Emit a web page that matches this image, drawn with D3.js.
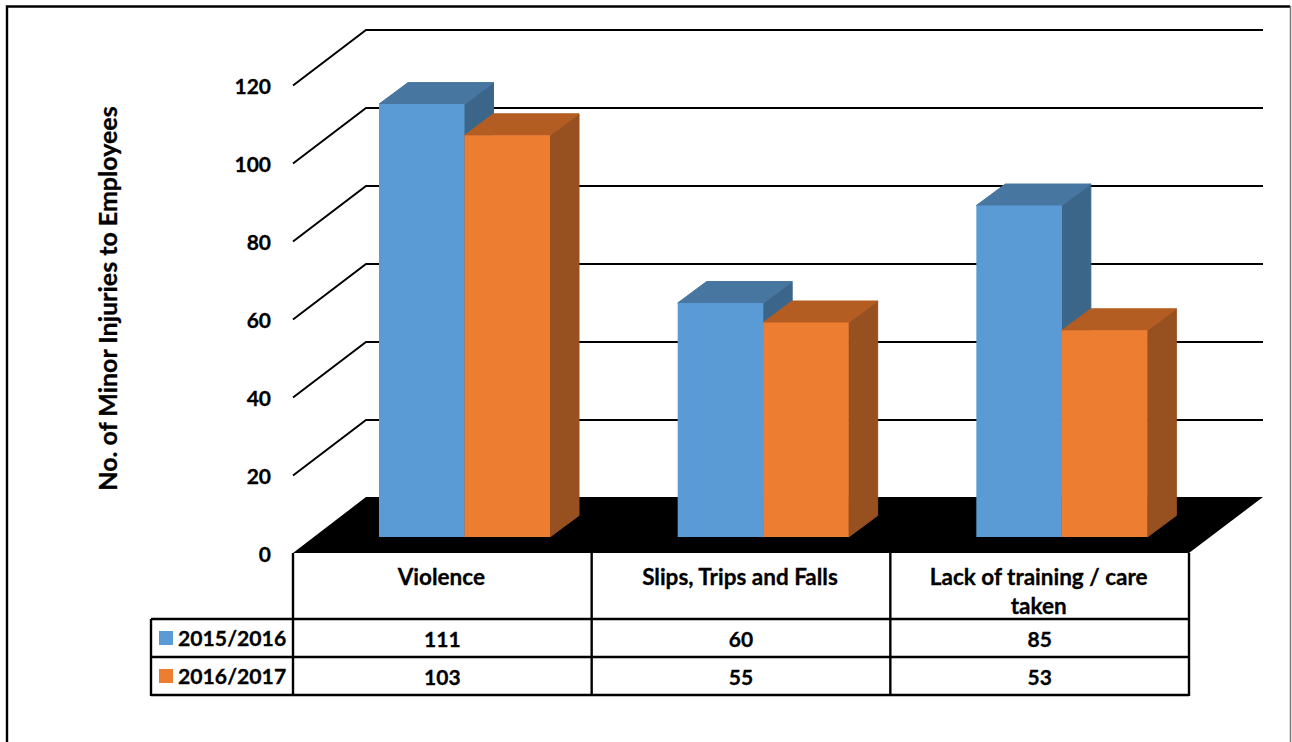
<!DOCTYPE html>
<html>
<head>
<meta charset="utf-8">
<script src="https://cdnjs.cloudflare.com/ajax/libs/d3/7.8.5/d3.min.js"></script>
<style>
  html, body { margin: 0; padding: 0; background: #fff; }
  svg { display: block; }
  text { font-family: Lato, "Open Sans", sans-serif; font-weight: 700; fill: #000; stroke: #000; stroke-width: 0.3px; }
</style>
</head>
<body>
<div id="chart"></div>
<script>
// Minor injuries to employees by cause, two reporting years
const categories = ["Violence", "Slips, Trips and Falls", "Lack of training / care taken"];
const categoryLines = [["Violence"], ["Slips, Trips and Falls"], ["Lack of training / care", "taken"]];
const seriesNames = ["2015/2016", "2016/2017"];
const values2015 = [111, 60, 85];
const values2016 = [103, 55, 53];
const yTicks = [0, 20, 40, 60, 80, 100, 120];
const yTitle = "No. of Minor Injuries to Employees";

const seriesValues = [values2015, values2016];
const palette = [
  { front: "#5b9bd5", top: "#4776a1", side: "#3c6689" },
  { front: "#ed7d31", top: "#b45d22", side: "#97501f" }
];

const W = 1292, H = 742;
const plotLeft = 293, plotRight = 1189;
const floorY = 553;
const wall = { dx: 73, dy: -55 };      // floor depth: front edge to back wall
const seat = { dx: 86, dy: -16 };      // where a bar group stands on the floor
const depth = { dx: 29, dy: -21.5 };   // extrusion of each bar
const groupWidth = 171;
const rowY = [619, 657, 695];
const tableLeft = 151;

const y = d3.scaleLinear().domain([0, 120]).range([floorY, floorY - 468]);
const x0 = d3.scaleBand().domain(categories).range([plotLeft, plotRight]);
const x1 = d3.scaleBand().domain(seriesNames).range([0, groupWidth]);

const svg = d3.select("#chart").append("svg").attr("width", W).attr("height", H);

// Page frame: heavy top and left, thin grey right, open at the bottom
svg.append("path").attr("d", `M7,${H} V6.5 H1290`).attr("fill", "none")
  .attr("stroke", "#000").attr("stroke-width", 2.4);
svg.append("line").attr("x1", 1290.5).attr("x2", 1290.5).attr("y1", 6).attr("y2", H)
  .attr("stroke", "#777").attr("stroke-width", 1.5);

// Gridlines: slanted side wall plus horizontal back wall
const grid = svg.append("g").attr("fill", "none").attr("stroke", "#000").attr("stroke-width", 2);
grid.selectAll("path").data(yTicks.filter(t => t > 0)).join("path")
  .attr("d", t => `M${plotLeft},${y(t) + 0.5} L${plotLeft + wall.dx},${y(t) + wall.dy} H${plotRight + wall.dx + 1}`);

// Black floor
svg.append("polygon").attr("fill", "#000")
  .attr("points", [
    [plotLeft, floorY],
    [plotLeft + wall.dx, floorY + wall.dy - 1],
    [plotRight + wall.dx + 1, floorY + wall.dy - 1],
    [plotRight, floorY]
  ].join(" "));

// Bars: front, top and side faces
categories.forEach((cat, c) => {
  seriesNames.forEach((name, s) => {
    const v = seriesValues[s][c];
    const col = palette[s];
    const xl = x0(cat) + seat.dx + x1(name);
    const xr = xl + x1.bandwidth();
    const yb = y(0) + seat.dy;
    const yt = y(v) + seat.dy;
    const g = svg.append("g").attr("stroke-width", 1);
    g.append("polygon").attr("fill", col.side).attr("stroke", col.side)
      .attr("points", [[xr, yt], [xr + depth.dx, yt + depth.dy], [xr + depth.dx, yb + depth.dy], [xr, yb]].join(" "));
    g.append("polygon").attr("fill", col.top).attr("stroke", col.top)
      .attr("points", [[xl, yt], [xl + depth.dx, yt + depth.dy], [xr + depth.dx, yt + depth.dy], [xr, yt]].join(" "));
    g.append("rect").attr("x", xl).attr("y", yt)
      .attr("width", xr - xl).attr("height", yb - yt)
      .attr("fill", col.front).attr("stroke", "none");
  });
});

// Value axis labels
const axis = d3.axisLeft(y).tickValues(yTicks).tickSize(0).tickPadding(22);
const axisG = svg.append("g").attr("transform", `translate(${plotLeft},1.5)`).call(axis);
axisG.select(".domain").remove();
axisG.selectAll("text").attr("font-size", 21).style("font-family", "Lato, sans-serif").style("font-weight", 700);

// Axis title
svg.append("text")
  .attr("transform", "translate(107,298.5) rotate(-90)")
  .attr("text-anchor", "middle").attr("dominant-baseline", "central")
  .attr("font-size", 25).text(yTitle);

// Data table grid
const table = svg.append("g").attr("stroke", "#000").attr("stroke-width", 2.4).attr("fill", "none");
const colX = categories.map(c => x0(c)).concat(plotRight);
colX.forEach(cx => table.append("line").attr("x1", cx).attr("x2", cx).attr("y1", floorY).attr("y2", rowY[2] + 1));
rowY.forEach(ry => table.append("line").attr("x1", tableLeft).attr("x2", plotRight).attr("y1", ry).attr("y2", ry));
table.append("line").attr("x1", tableLeft).attr("x2", tableLeft).attr("y1", rowY[0]).attr("y2", rowY[2] + 1);

// Category header cells
categories.forEach((cat, c) => {
  const cx = x0(cat) + x0.bandwidth() / 2;
  categoryLines[c].forEach((ln, i) => {
    svg.append("text").attr("x", cx - 1).attr("y", 576 + i * 29)
      .attr("text-anchor", "middle").attr("dominant-baseline", "central")
      .attr("font-size", 22.5).text(ln);
  });
});

// Series rows: legend key, name and values
seriesNames.forEach((name, s) => {
  const cy = (rowY[s] + rowY[s + 1]) / 2;
  svg.append("rect").attr("x", 159).attr("y", cy - 7).attr("width", 14).attr("height", 14)
    .attr("fill", palette[s].front);
  svg.append("text").attr("x", 178).attr("y", cy - 0.5)
    .attr("dominant-baseline", "central").attr("font-size", 21.2).text(name);
  categories.forEach((cat, c) => {
    svg.append("text").attr("x", x0(cat) + x0.bandwidth() / 2).attr("y", cy)
      .attr("text-anchor", "middle").attr("dominant-baseline", "central")
      .attr("font-size", 21).text(seriesValues[s][c]);
  });
});
</script>
</body>
</html>
